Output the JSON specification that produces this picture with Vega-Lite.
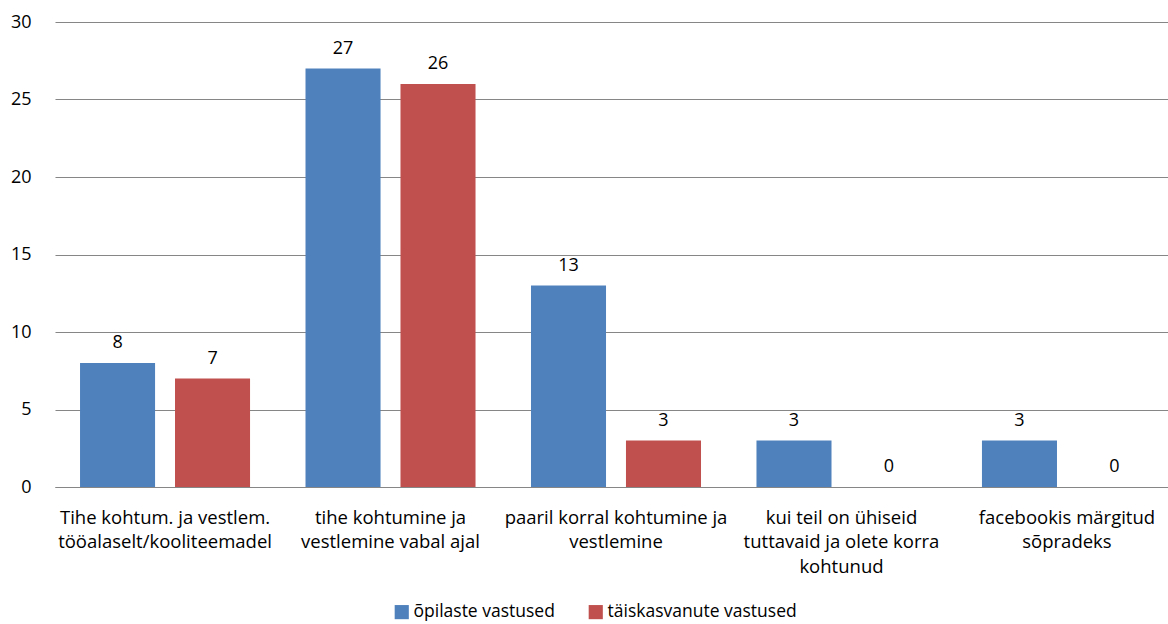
{
  "$schema": "https://vega.github.io/schema/vega-lite/v6.json",
  "width": 1122,
  "height": 465,
  "autosize": {"type": "none"},
  "padding": {"left": 55, "top": 22, "right": 0, "bottom": 137},
  "background": "white",
  "config": {
    "view": {"stroke": null},
    "font": "Open Sans",
    "text": {"font": "Open Sans"}
  },
  "data": {
    "values": [
      {"kategooria": "Tihe kohtum.  ja vestlem.|tööalaselt/kooliteemadel", "rühm": "õpilaste vastused", "arv": 8},
      {"kategooria": "Tihe kohtum.  ja vestlem.|tööalaselt/kooliteemadel", "rühm": "täiskasvanute vastused", "arv": 7},
      {"kategooria": "tihe kohtumine ja|vestlemine vabal ajal", "rühm": "õpilaste vastused", "arv": 27},
      {"kategooria": "tihe kohtumine ja|vestlemine vabal ajal", "rühm": "täiskasvanute vastused", "arv": 26},
      {"kategooria": "paaril korral kohtumine ja|vestlemine", "rühm": "õpilaste vastused", "arv": 13},
      {"kategooria": "paaril korral kohtumine ja|vestlemine", "rühm": "täiskasvanute vastused", "arv": 3},
      {"kategooria": "kui teil on ühiseid|tuttavaid ja olete korra|kohtunud", "rühm": "õpilaste vastused", "arv": 3},
      {"kategooria": "kui teil on ühiseid|tuttavaid ja olete korra|kohtunud", "rühm": "täiskasvanute vastused", "arv": 0},
      {"kategooria": "facebookis märgitud|sõpradeks", "rühm": "õpilaste vastused", "arv": 3},
      {"kategooria": "facebookis märgitud|sõpradeks", "rühm": "täiskasvanute vastused", "arv": 0}
    ]
  },
  "encoding": {
    "x": {
      "field": "kategooria",
      "type": "nominal",
      "sort": null,
      "scale": {"paddingInner": 0.246, "paddingOuter": 0.111},
      "axis": {
        "title": null,
        "labelAngle": 0,
        "labelExpr": "split(datum.label, '|')",
        "labelFont": "Open Sans",
        "labelFontSize": 18.5,
        "labelColor": "black",
        "labelLineHeight": 24.5,
        "labelPadding": 21,
        "labelLimit": 300,
        "ticks": false,
        "domainColor": "#868686",
        "domainWidth": 1.2
      }
    },
    "xOffset": {
      "field": "rühm",
      "type": "nominal",
      "sort": ["õpilaste vastused", "täiskasvanute vastused"],
      "scale": {"domain": ["õpilaste vastused", "täiskasvanute vastused"], "paddingInner": 0.21, "paddingOuter": 0}
    },
    "y": {
      "field": "arv",
      "type": "quantitative",
      "scale": {"domain": [0, 30], "nice": false},
      "axis": {
        "title": null,
        "values": [0, 5, 10, 15, 20, 25, 30],
        "labelFont": "Open Sans",
        "labelFontSize": 18,
        "labelColor": "black",
        "labelPadding": 24,
        "ticks": false,
        "domain": false,
        "gridColor": "#868686",
        "gridWidth": 1.2
      }
    }
  },
  "layer": [
    {
      "mark": {"type": "bar"},
      "encoding": {
        "color": {
          "field": "rühm",
          "type": "nominal",
          "scale": {"domain": ["õpilaste vastused", "täiskasvanute vastused"], "range": ["#4F81BD", "#C0504D"]},
          "legend": {
            "title": null,
            "orient": "none",
            "direction": "horizontal",
            "legendX": 338,
            "legendY": 581,
            "symbolType": "square",
            "symbolSize": 200,
            "symbolStrokeWidth": 0,
            "symbolOpacity": 1,
            "labelFont": "Open Sans",
            "labelFontSize": 17.5,
            "labelColor": "black",
            "labelOffset": 3,
            "labelLimit": 400,
            "columnPadding": 32
          }
        }
      }
    },
    {
      "mark": {"type": "text", "dy": -20, "fontSize": 18, "color": "black", "font": "Open Sans"},
      "encoding": {
        "text": {"field": "arv", "type": "quantitative"}
      }
    }
  ]
}
